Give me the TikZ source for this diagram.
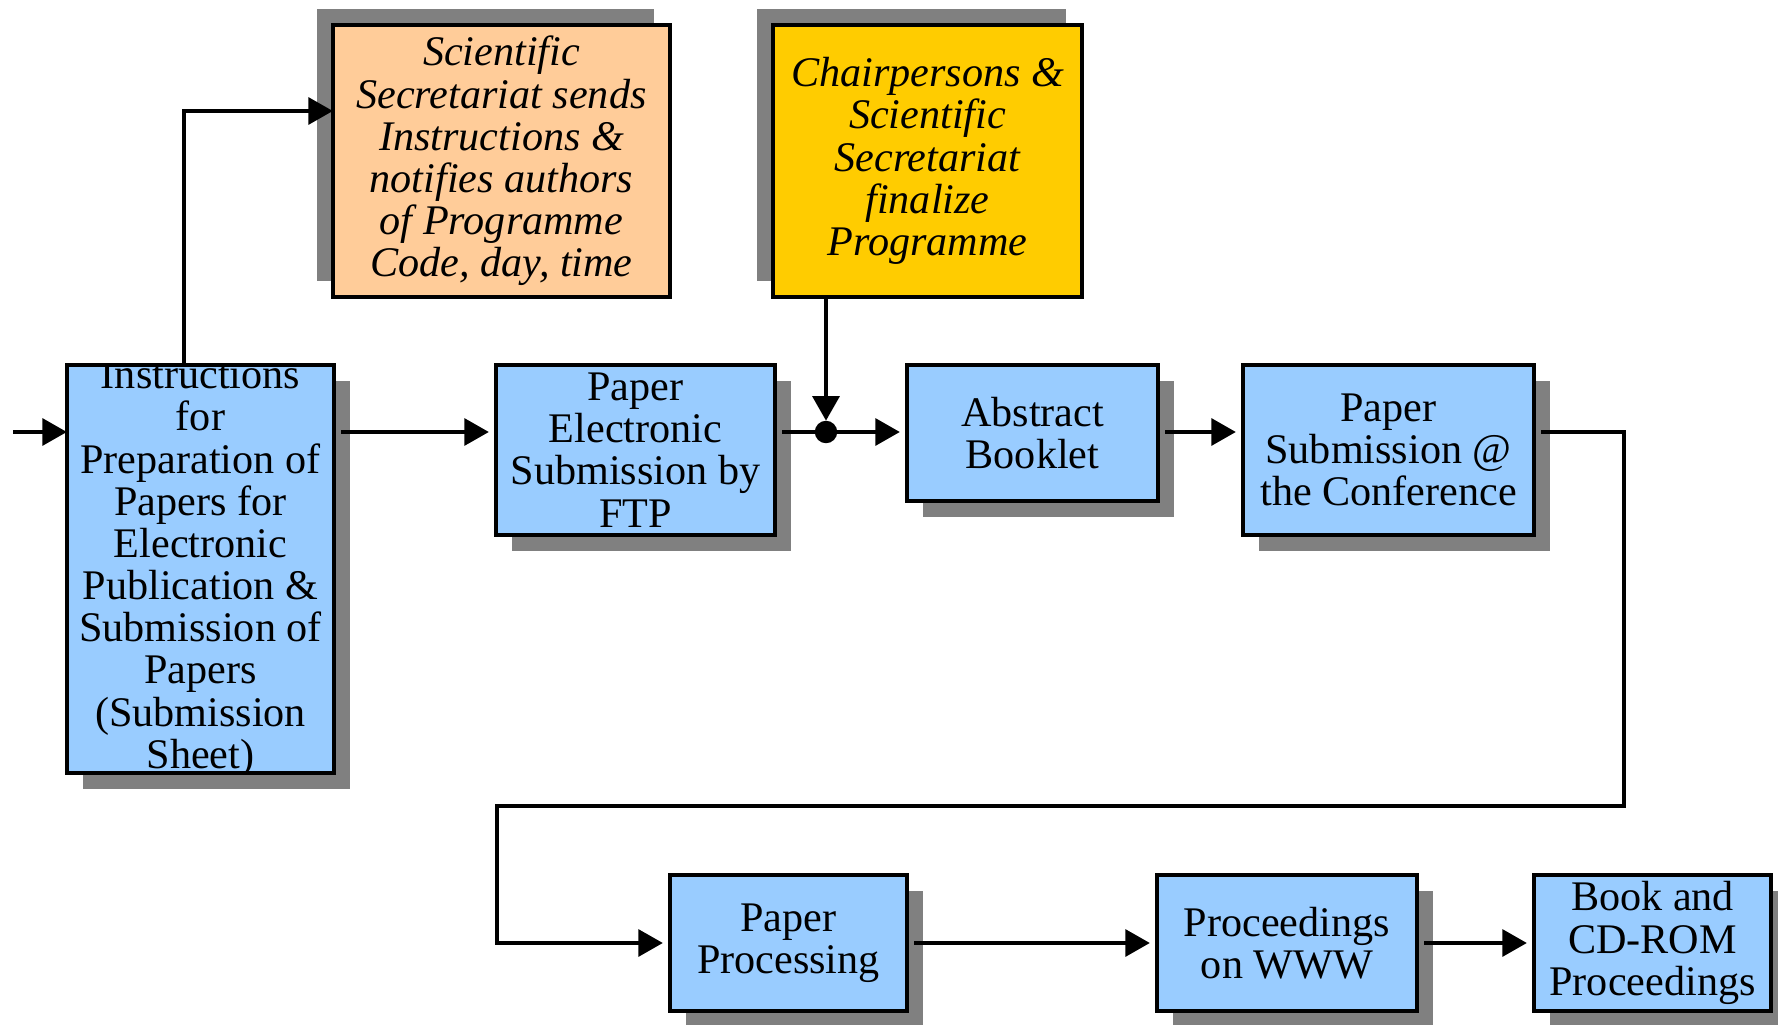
\documentclass[tikz,border=0pt]{standalone}
\usepackage{fontspec}
\setmainfont{Liberation Serif}
\usetikzlibrary{arrows.meta, positioning, shadows}
\definecolor{boxblue}{HTML}{99CCFF}
\definecolor{boxorange}{HTML}{FFCC99}
\definecolor{boxyellow}{HTML}{FFCC00}
\definecolor{shadowgray}{HTML}{808080}

\begin{document}
\begin{tikzpicture}[
    boxbase/.style={rectangle, draw=black, line width=0.9pt, inner sep=0pt, outer sep=0pt, align=center, font=\fontsize{12}{12}\selectfont},
    lowbox/.style={boxbase, fill=boxblue, drop shadow={shadow xshift=0.16cm, shadow yshift=-0.16cm, opacity=1, fill=shadowgray}},
    topbox/.style={boxbase, font=\fontsize{12}{12}\selectfont\itshape, drop shadow={shadow xshift=-0.16cm, shadow yshift=0.16cm, opacity=1, fill=shadowgray}},
    arrow/.style={-{Triangle[length=7pt, width=7.5pt]}, line width=1.4pt},
    connector/.style={line width=1.4pt},
    gapped/.style={shorten <=2pt, shorten >=2pt}
]
\useasboundingbox (0,0) rectangle (17.78,10.24);

% Top row
\node[topbox, fill=boxorange, minimum width=3.37cm, minimum height=2.72cm, anchor=north west] (secr) at (3.33,9.99) {Scientific\\Secretariat sends\\Instructions \&\\notifies authors\\of Programme\\Code, day, time};
\node[topbox, fill=boxyellow, minimum width=3.09cm, minimum height=2.72cm, right=1.03cm of secr.north east, anchor=north west] (chair) {Chairpersons \&\\Scientific\\Secretariat\\finalize\\Programme};

% Middle row
\node[lowbox, minimum width=2.67cm, minimum height=4.08cm, anchor=north west] (instr) at (0.67,6.59) {};
\begin{scope}
  \clip (instr.south west) rectangle (instr.north east);
  \node[boxbase, draw=none] (instrtext) at (instr.center) {Instructions\\for\\Preparation of\\Papers for\\Electronic\\Publication \&\\Submission of\\Papers\\(Submission\\Sheet)};
\end{scope}
\draw[line width=0.9pt] (instr.south west) rectangle (instr.north east);
\node[lowbox, minimum width=2.79cm, minimum height=1.70cm, right=1.62cm of instr.north east, anchor=north west] (ftp) {Paper\\Electronic\\Submission by\\FTP};
\node[lowbox, minimum width=2.51cm, minimum height=1.36cm, right=1.32cm of ftp.north east, anchor=north west] (abstr) {Abstract\\Booklet};
\node[lowbox, minimum width=2.91cm, minimum height=1.70cm, right=0.85cm of abstr.north east, anchor=north west] (confsub) {Paper\\Submission @\\the Conference};

% Bottom row
\node[lowbox, minimum width=2.37cm, minimum height=1.36cm, anchor=north west] (proc) at (6.70,1.49) {Paper\\Processing};
\node[lowbox, minimum width=2.60cm, minimum height=1.36cm, right=2.50cm of proc.north east, anchor=north west] (www) {Proceedings\\on WWW};
\node[lowbox, minimum width=2.37cm, minimum height=1.36cm, right=1.17cm of www.north east, anchor=north west] (book) {Book and\\CD-ROM\\Proceedings};

% Helper points
\coordinate (row) at (0,5.92);
\coordinate (entry) at (0.13,5.92);
\coordinate (uptop) at (1.84,9.13);
\coordinate (loopright) at (16.24,2.18);
\coordinate (loopleft) at (4.97,2.18);
\node[circle, fill=black, draw=black, inner sep=0pt, minimum size=0.21cm] (junc) at (8.26,5.92) {};

% Arrows
\draw[arrow] (entry) -- (instr.west |- entry);
\draw[arrow] (instr.north -| uptop) |- (secr.west |- uptop);
\draw[arrow, gapped] (instr.east |- row) -- (ftp.west |- row);
\draw[connector, shorten <=2pt] (ftp.east |- row) -- (junc);
\draw[arrow] (chair.south -| junc) -- (junc.north);
\draw[arrow, shorten >=2pt] (junc) -- (abstr.west |- row);
\draw[arrow, gapped] (abstr.east |- row) -- (confsub.west |- row);
\draw[arrow, gapped] (confsub.east |- row) -| (loopright) -- (loopleft) |- (proc.west);
\draw[arrow, gapped] (proc) -- (www);
\draw[arrow, gapped] (www) -- (book);

\end{tikzpicture}
\end{document}
